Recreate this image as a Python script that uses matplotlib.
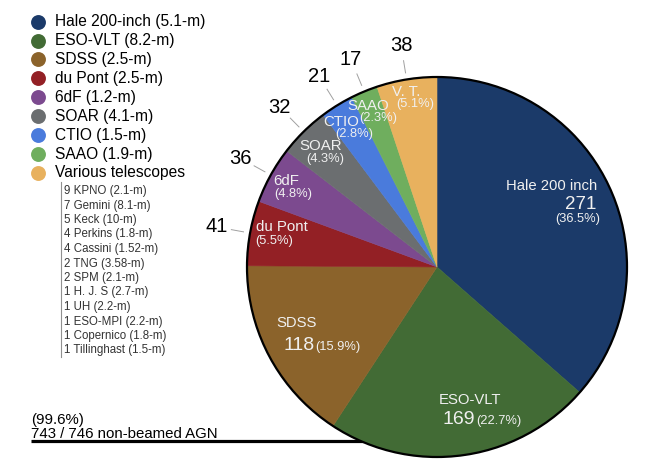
import numpy as np
import matplotlib
matplotlib.use('Agg')
import matplotlib.pyplot as plt
from matplotlib.patches import Circle

plt.rcParams['font.family'] = ['Liberation Sans', 'DejaVu Sans']

# ---------------- data ----------------
telescopes = ['Hale 200-inch (5.1-m)', 'ESO-VLT (8.2-m)', 'SDSS (2.5-m)', 'du Pont (2.5-m)',
              '6dF (1.2-m)', 'SOAR (4.1-m)', 'CTIO (1.5-m)', 'SAAO (1.9-m)', 'Various telescopes']
short_names = ['Hale 200 inch', 'ESO-VLT', 'SDSS', 'du Pont', '6dF', 'SOAR', 'CTIO', 'SAAO', 'V. T.']
counts = [271, 169, 118, 41, 36, 32, 21, 17, 38]
colors = ['#1b3a69', '#426b35', '#8b632b', '#932025', '#7c4a8f',
          '#6b6e70', '#4a7bdc', '#6fae5e', '#e8b15e']
various = ['9 KPNO (2.1-m)', '7 Gemini (8.1-m)', '5 Keck (10-m)', '4 Perkins (1.8-m)',
           '4 Cassini (1.52-m)', '2 TNG (3.58-m)', '2 SPM (2.1-m)', '1 H. J. S (2.7-m)',
           '1 UH (2.2-m)', '1 ESO-MPI (2.2-m)', '1 Copernico (1.8-m)', '1 Tillinghast (1.5-m)']
total_agn = 746

# ---------------- layout ----------------
W, H = 658, 465
fig = plt.figure(figsize=(W / 100, H / 100), dpi=100)
ax = fig.add_axes([0, 0, 1, 1])

def Y(y):
    return H - y

CX, CY, R = 437, Y(267), 190
txt_col = '#f0f0f0'

total = sum(counts)

# bottom line (behind pie)
ax.plot([31, CX], [Y(441), Y(441)], color='black', lw=2.3, zorder=1, solid_capstyle='butt')

wedges, _ = ax.pie(counts, colors=colors, startangle=90, counterclock=False,
                   center=(CX, CY), radius=R, wedgeprops=dict(linewidth=0.4))
for w, c in zip(wedges, colors):
    w.set_zorder(2)
    w.set_edgecolor(c)
ax.add_patch(Circle((CX, CY), R, facecolor='none', edgecolor='black', lw=1.6, zorder=3))

ax.set_xlim(0, W)
ax.set_ylim(0, H)
ax.set_aspect('equal')
ax.axis('off')

def pol(ang, rf):
    a = np.deg2rad(ang)
    return CX + rf * R * np.cos(a), CY + rf * R * np.sin(a)

mids = [(w.theta1 + w.theta2) / 2 for w in wedges]
pcts = [c / total * 100 for c in counts]

# ---- outer numbers for small wedges ----
for i in range(3, 9):
    m = mids[i]
    x0, y0 = pol(m, 1.035)
    x1, y1 = pol(m, 1.10)
    ax.plot([x0, x1], [y0, y1], color='#a0a0a0', lw=0.7, zorder=4)
    xt, yt = pol(m, 1.18)
    ax.text(xt, yt, str(counts[i]), fontsize=14.5, ha='center', va='center', zorder=5)

# ---- inner labels for small wedges ----
# (name radius, name angle offset, pct dx px, pct dy px)
small_spec = {3: (0.845, -4.2, -7.0, -14.3),
              4: (0.915, -0.75, 7.0, -13.0),
              5: (0.882, -0.6, 4.5, -13.0),
              6: (0.917, 1.7, 13.0, -12.0),
              7: (0.92, 0.55, 10.0, -12.0),
              8: (0.935, 0.7, 8.7, -12.0)}
for i, (rn, an, pdx, pdy) in small_spec.items():
    xn, yn = pol(mids[i] + an, rn)
    ax.text(xn, yn, short_names[i], fontsize=10.8, color=txt_col, ha='center', va='center', zorder=5)
    ax.text(xn + pdx, yn + pdy, f'({pcts[i]:.1f}%)', fontsize=9.3, color=txt_col,
            ha='center', va='center', zorder=5)

# ---- Hale ----
hx, hy = pol(mids[0] - 4.4, 0.895)
ax.text(hx, hy + 19, short_names[0], fontsize=10.7, color=txt_col, ha='right', va='baseline', zorder=5)
ax.text(hx, hy, str(counts[0]), fontsize=13.5, color=txt_col, ha='right', va='baseline', zorder=5)
ax.text(hx + 3, hy - 13, f'({pcts[0]:.1f}%)', fontsize=9.3, color=txt_col, ha='right', va='baseline', zorder=5)

# ---- ESO-VLT and SDSS ----
for i, (aoff, rf, name_dx, name_dy) in {1: (5.9, 0.85, -5, 20), 2: (5.8, 0.78, -17.5, 23)}.items():
    jx, jy = pol(mids[i] + aoff, rf)
    ax.text(jx + name_dx, jy + name_dy, short_names[i], fontsize=10.7, color=txt_col,
            ha='center', va='baseline', zorder=5)
    ax.text(jx, jy, str(counts[i]), fontsize=14, color=txt_col, ha='right', va='baseline', zorder=5)
    ax.text(jx + 1, jy, f'({pcts[i]:.1f}%)', fontsize=9.3, color=txt_col, ha='left', va='baseline', zorder=5)

# ---- legend ----
ly0, ldy = 21.7, 18.9
for i, (name, col) in enumerate(zip(telescopes, colors)):
    y = Y(ly0 + i * ldy)
    ax.scatter([38], [y], s=115, color=col, zorder=5, linewidths=0)
    ax.text(55, y, name, fontsize=11.2, ha='left', va='center', zorder=5)

# ---- various sub-list ----
ax.plot([60.7, 60.7], [Y(182), Y(357)], color='#909090', lw=0.8, zorder=4)
for j, s in enumerate(various):
    ax.text(64, Y(191 + j * 14.5), s, fontsize=8.3, color='#333333', ha='left', va='center', zorder=5)

# ---- bottom text ----
ax.text(31, Y(420), f'({total / total_agn * 100:.1f}%)', fontsize=10.8, ha='left', va='center', zorder=5)
ax.text(31, Y(433.5), f'{total} / {total_agn} non-beamed AGN', fontsize=10.8, ha='left', va='center', zorder=5)

fig.savefig('out.png', dpi=100)
